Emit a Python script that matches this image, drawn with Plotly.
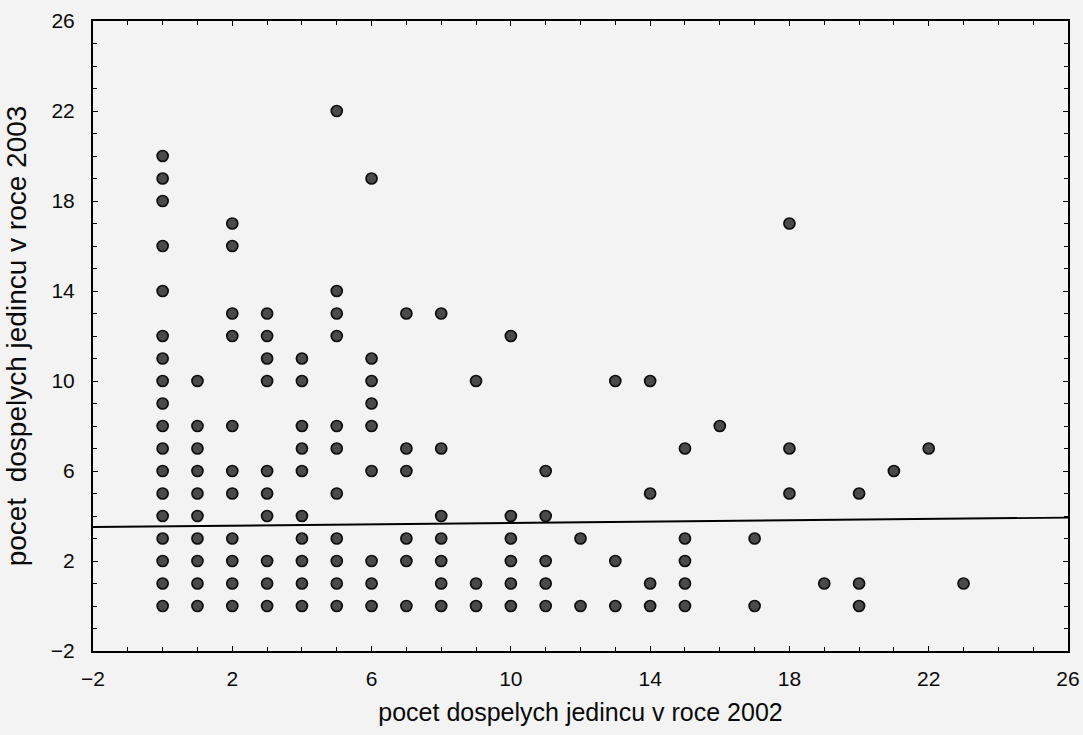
import plotly.graph_objects as go

# Data
x_2002 = (
    [0] * 18 + [1] * 10 + [2] * 11 + [3] * 10 + [4] * 10 + [5] * 11 + [6] * 9
    + [7] * 6 + [8] * 7 + [9] * 3 + [10] * 6 + [11] * 5 + [12] * 2 + [13] * 3
    + [14] * 4 + [15] * 5 + [16] * 1 + [17] * 2 + [18] * 3 + [19] * 1
    + [20] * 3 + [21] * 1 + [22] * 1 + [23] * 1
)
y_2003 = (
    [20, 19, 18, 16, 14, 12, 11, 10, 9, 8, 7, 6, 5, 4, 3, 2, 1, 0]
    + [10, 8, 7, 6, 5, 4, 3, 2, 1, 0]
    + [17, 16, 13, 12, 8, 6, 5, 3, 2, 1, 0]
    + [13, 12, 11, 10, 6, 5, 4, 2, 1, 0]
    + [11, 10, 8, 7, 6, 4, 3, 2, 1, 0]
    + [22, 14, 13, 12, 8, 7, 5, 3, 2, 1, 0]
    + [19, 11, 10, 9, 8, 6, 2, 1, 0]
    + [13, 7, 6, 3, 2, 0]
    + [13, 7, 4, 3, 2, 1, 0]
    + [10, 1, 0]
    + [12, 4, 3, 2, 1, 0]
    + [6, 4, 2, 1, 0]
    + [3, 0]
    + [10, 2, 0]
    + [10, 5, 1, 0]
    + [7, 3, 2, 1, 0]
    + [8]
    + [3, 0]
    + [17, 7, 5]
    + [1]
    + [5, 1, 0]
    + [6]
    + [7]
    + [1]
)

# Fitted line endpoints
fit_x = [-2, 26]
fit_y = [3.51, 3.93]

x_title = "pocet dospelych jedincu v roce 2002"
y_title = "pocet  dospelych jedincu v roce 2003"

FONT = "Liberation Sans, Arial, sans-serif"
BG = "#f3f3f3"
TXT = "#0a0a0a"

fig = go.Figure()
fig.add_trace(go.Scatter(
    x=fit_x, y=fit_y, mode="lines",
    line=dict(color="#000000", width=1.9),
    hoverinfo="skip", showlegend=False,
))
fig.add_trace(go.Scatter(
    x=x_2002, y=y_2003, mode="markers",
    marker=dict(size=11, color="#4a4a4a", line=dict(color="#0d0d0d", width=1.7)),
    showlegend=False,
))

axis_common = dict(
    range=[-2, 26], tick0=-2, dtick=4, automargin=False,
    showgrid=False, zeroline=False,
    showline=True, linecolor="#000000", linewidth=2, mirror="ticks",
    ticks="inside", ticklen=5, tickwidth=1.3, tickcolor="#000000",
    minor=dict(dtick=1, ticks="inside", ticklen=4, tickwidth=1.2, tickcolor="#000000"),
    tickfont=dict(family=FONT, size=21, color=TXT),
)

fig.update_layout(
    width=1083, height=735,
    margin=dict(l=93, r=15, t=21, b=84, autoexpand=False),
    paper_bgcolor=BG, plot_bgcolor=BG,
    font=dict(family=FONT, color=TXT),
    xaxis=dict(**axis_common,
               title=dict(text=x_title, font=dict(family=FONT, size=25, color=TXT), standoff=14),
               ticklabelstandoff=8),
    yaxis=dict(**axis_common,
               title=dict(text=y_title, font=dict(family=FONT, size=28, color=TXT), standoff=16),
               ticklabelstandoff=12),
)

fig.write_html("out.html")
